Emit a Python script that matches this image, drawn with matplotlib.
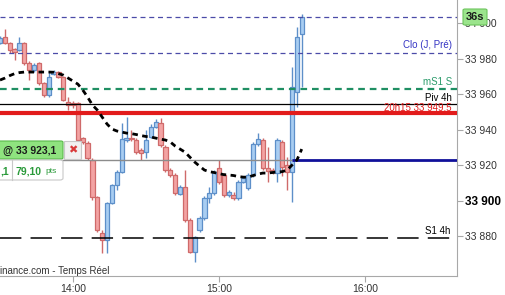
import numpy as np
import matplotlib
matplotlib.use("Agg")
import matplotlib.pyplot as plt
from matplotlib.patches import FancyBboxPatch, Rectangle
from matplotlib.ticker import FuncFormatter

plt.rcParams['font.family'] = ['Liberation Sans', 'DejaVu Sans']

# 2-minute candles starting 13:30
start_min = 13 * 60 + 30
step_min = 2

opens = [33988.7, 33992.1, 33988.7, 33985.4, 33984.8, 33988.7, 33977.5, 33973.5, 33977.5, 33966.2,
         33959.4, 33971.3, 33972.4, 33969.6, 33955.5, 33954.4, 33954.9, 33935.2, 33932.4, 33922.8,
         33902.0, 33881.7, 33877.7, 33898.6, 33908.7, 33916.1, 33934.1, 33935.2, 33934.1, 33928.4,
         33927.3, 33935.8, 33941.4, 33943.7, 33930.1, 33917.2, 33914.4, 33903.7, 33907.6, 33889.0,
         33871.0, 33883.4, 33890.1, 33901.4, 33904.2, 33918.3, 33914.4, 33903.1, 33903.1, 33901.4,
         33910.4, 33907.0, 33914.4, 33931.8, 33934.1, 33918.3, 33917.2, 33915.5, 33933.0, 33920.0,
         33916.1, 33961.1, 33993.8]
closes = [33991.5, 33988.7, 33984.8, 33983.7, 33988.7, 33977.5, 33973.5, 33976.3, 33966.2, 33959.4,
          33969.6, 33972.4, 33969.6, 33956.6, 33953.8, 33954.1, 33934.1, 33933.0, 33923.9, 33902.0,
          33883.4, 33877.7, 33898.6, 33908.7, 33916.1, 33934.6, 33935.2, 33934.6, 33927.3, 33926.8,
          33934.1, 33941.4, 33944.2, 33931.3, 33917.2, 33914.4, 33904.2, 33907.6, 33889.0, 33871.0,
          33879.4, 33890.1, 33901.4, 33904.2, 33916.1, 33910.4, 33903.1, 33904.8, 33901.4, 33910.4,
          33912.7, 33914.4, 33931.8, 33934.6, 33918.3, 33916.6, 33916.1, 33934.1, 33918.9, 33916.1,
          33963.9, 33992.1, 34003.4]
highs = [33992.7, 33996.6, 33989.3, 33985.9, 33992.1, 33989.3, 33978.6, 33977.5, 33978.0, 33966.8,
         33973.0, 33973.5, 33973.0, 33970.1, 33958.3, 33956.1, 33955.5, 33935.8, 33933.5, 33923.9,
         33902.5, 33883.4, 33899.2, 33909.3, 33917.2, 33943.7, 33947.0, 33939.7, 33935.2, 33929.6,
         33939.7, 33943.1, 33945.9, 33946.5, 33931.3, 33918.3, 33915.5, 33908.7, 33917.2, 33890.1,
         33880.0, 33891.3, 33902.5, 33907.6, 33917.2, 33922.8, 33915.5, 33905.9, 33904.8, 33911.5,
         33913.8, 33915.5, 33933.0, 33938.0, 33935.2, 33930.1, 33918.3, 33935.2, 33934.1, 33924.5,
         33975.2, 33997.7, 34005.1]
lows = [33988.2, 33988.2, 33983.1, 33979.2, 33984.2, 33976.3, 33967.9, 33972.4, 33965.1, 33958.3,
        33958.3, 33970.7, 33969.0, 33956.1, 33951.0, 33952.1, 33933.5, 33931.8, 33922.8, 33900.3,
        33882.2, 33870.4, 33870.4, 33898.0, 33905.9, 33915.5, 33933.0, 33933.5, 33926.2, 33922.8,
        33923.9, 33935.2, 33940.8, 33930.1, 33916.1, 33913.2, 33903.1, 33903.1, 33887.9, 33870.4,
        33865.3, 33882.2, 33889.0, 33898.6, 33903.1, 33909.3, 33902.0, 33902.0, 33900.3, 33900.3,
        33909.9, 33905.9, 33913.2, 33930.7, 33917.2, 33910.4, 33914.9, 33910.4, 33913.8, 33905.9,
        33899.2, 33952.7, 33963.9]
# moving average (dotted black)
ma = [33967.9, 33969.0, 33970.4, 33971.5, 33972.1, 33972.4, 33972.4, 33972.4, 33972.4, 33972.4,
      33972.4, 33972.3, 33971.5, 33970.7, 33969.0, 33967.3, 33965.6, 33962.3, 33958.3, 33953.8,
      33951.0, 33947.0, 33943.1, 33940.3, 33939.2, 33938.6, 33938.0, 33937.7, 33937.2, 33936.6,
      33936.1, 33935.8, 33935.2, 33934.6, 33934.1, 33933.0, 33930.7, 33929.0, 33927.3, 33924.5,
      33921.7, 33919.4, 33917.2, 33916.3, 33915.8, 33915.2, 33914.6, 33914.4, 33914.1, 33913.5,
      33913.2, 33913.2, 33914.1, 33914.9, 33915.5, 33915.5, 33915.8, 33916.1, 33916.3, 33917.2,
      33920.0, 33922.8, 33929.0]

lvl_top = 34003.4
lvl_clo = 33983.1
lvl_ms1 = 33962.8
lvl_piv = 33954.4
lvl_red = 33949.5
lvl_pos = 33923.1
lvl_s1 = 33879.0

yticks = [33880, 33900, 33920, 33940, 33960, 33980, 34000]
xtick_times = ["14:00", "15:00", "16:00"]

W, H = 506, 295
fig = plt.figure(figsize=(W / 100, H / 100), dpi=100)
ax = fig.add_axes([0, 19 / H, 457 / W, 276 / H])

x = np.array([start_min + step_min * i for i in range(len(opens))])
o = np.array(opens); c = np.array(closes)
up = c >= o
body_lo = np.minimum(o, c)
body_h = np.maximum(np.abs(c - o), 0.6)
face = np.where(up, '#a8cdf2', '#f3a3a3')
edge = np.where(up, '#5d8fc9', '#cf6a6a')

ax.vlines(x, lows, highs, colors=edge, linewidth=1, zorder=2)
ax.bar(x, body_h, bottom=body_lo, width=1.75, color=face, edgecolor=edge, linewidth=0.9, zorder=3)

# horizontal levels
ax.axhline(lvl_top, color='#4b4ba8', lw=0.9, ls=(0, (4, 3)), zorder=4)
ax.axhline(lvl_clo, color='#4b4ba8', lw=0.9, ls=(0, (4, 3)), zorder=4)
ax.axhline(lvl_ms1, color='#1f8f63', lw=1.6, ls=(0, (3, 2.2)), zorder=4)
ax.axhline(lvl_piv, color='black', lw=0.9, zorder=4)
ax.axhline(lvl_red, color='#e21b1b', lw=3, zorder=4)
ax.axhline(lvl_s1, color='black', lw=1.1, ls=(0, (14, 6)), zorder=4)
ax.hlines(lvl_pos, start_min - 2, x[-1] - 4, color='#8c8c8c', lw=1, zorder=4)
ax.hlines(lvl_pos, x[-1] - 4, 1000, color='#10109a', lw=2, zorder=4)
ax.plot(x, ma, color='black', lw=2, ls=(0, (2.0, 1.6)), zorder=5)

ax.set_xlim(810, 997.8)
ax.set_ylim(33857.5, 34013.0)

for s in ['top', 'left']:
    ax.spines[s].set_visible(False)
for s in ['right', 'bottom']:
    ax.spines[s].set_color('#a8a8a8')

ax.yaxis.tick_right()
ax.set_yticks(yticks)
ax.yaxis.set_major_formatter(FuncFormatter(lambda v, p: f"{int(v):,}".replace(",", " ")))
ax.set_xticks([14 * 60, 15 * 60, 16 * 60])
ax.set_xticklabels(xtick_times)
ax.tick_params(axis='both', colors='#a8a8a8', labelcolor='#333333', labelsize=7.5, length=4, pad=2)
for lab in ax.get_yticklabels():
    if lab.get_text() == "33 900":
        lab.set_fontweight('bold')
        lab.set_color('black')
        lab.set_fontsize(8.5)

# level labels
lx = 452 / 457
def lvl_text(y, s, col):
    ax.text(lx, y, s, transform=ax.get_yaxis_transform(), ha='right', va='bottom',
            color=col, fontsize=7, zorder=6)

lvl_text(lvl_clo + 2.0, "Clo (J, Pré)", '#3434c4')
lvl_text(lvl_ms1 + 1.3, "mS1 S", '#2a9a6a')
ax.text(lx, lvl_piv + 0.6, "Piv 4h", transform=ax.get_yaxis_transform(), ha='right',
        va='bottom', color='black', fontsize=7, zorder=6)
ax.text(lx, lvl_red + 0.3, "20h15 33 949,5", transform=ax.get_yaxis_transform(), ha='right',
        va='bottom', color='#e21b1b', fontsize=7, zorder=6)
ax.text(450 / 457, lvl_s1 + 1.0, "S1 4h", transform=ax.get_yaxis_transform(), ha='right',
        va='bottom', color='black', fontsize=7, zorder=6)

# overlay boxes in figure pixels
def fx(px): return px / W
def fy(py): return 1 - py / H

fig.patches.append(FancyBboxPatch((fx(-6), fy(159)), fx(69), 18 / H,
                                  boxstyle="round,pad=0,rounding_size=0.004",
                                  transform=fig.transFigure, facecolor='#8fe37f',
                                  edgecolor='#58b84a', lw=0.8, zorder=10))
fig.text(fx(3), fy(151), "@ 33 923,1", fontsize=7.5, fontweight='bold', color='#1c1c1c',
         va='center', ha='left', zorder=11)
fig.patches.append(Rectangle((fx(64), fy(159)), fx(17), 18 / H, transform=fig.transFigure,
                             facecolor='#f1f1f1', edgecolor='#c8c8c8', lw=0.8, zorder=10))
fig.text(fx(72.5), fy(150.5), "✖", fontsize=8, color='#d93a3a', ha='center', va='center',
         family=['DejaVu Sans'], zorder=11)
fig.patches.append(FancyBboxPatch((fx(-6), fy(180)), fx(69), 20 / H,
                                  boxstyle="round,pad=0,rounding_size=0.006",
                                  transform=fig.transFigure, facecolor='white',
                                  edgecolor='#c8c8c8', lw=0.8, zorder=10))
fig.lines.append(plt.Line2D([fx(12), fx(12)], [fy(160), fy(180)], transform=fig.transFigure,
                            color='#c8c8c8', lw=0.8, zorder=11))
fig.text(fx(0), fy(171), ",1", fontsize=7.5, fontweight='bold', color='#2a9a3a',
         va='center', ha='left', zorder=11)
fig.text(fx(16), fy(171), "79,10", fontsize=7.5, fontweight='bold', color='#2a9a3a',
         va='center', ha='left', zorder=11)
fig.text(fx(45), fy(171.5), "pts", fontsize=6, color='#2a9a3a', va='center', ha='left', zorder=11)

fig.text(fx(0.5), fy(271), "inance.com - Temps Réel", fontsize=7, color='#333333',
         va='center', ha='left', zorder=11)

# countdown badge
fig.patches.append(FancyBboxPatch((fx(463), fy(25)), fx(24), 16 / H,
                                  boxstyle="round,pad=0,rounding_size=0.004",
                                  transform=fig.transFigure, facecolor='#9be48c',
                                  edgecolor='#6cc45c', lw=0.8, zorder=10))
fig.text(fx(475), fy(17), "36s", fontsize=8, fontweight='bold', color='#1c1c1c',
         ha='center', va='center', zorder=11)

fig.savefig("out.png", dpi=100)
